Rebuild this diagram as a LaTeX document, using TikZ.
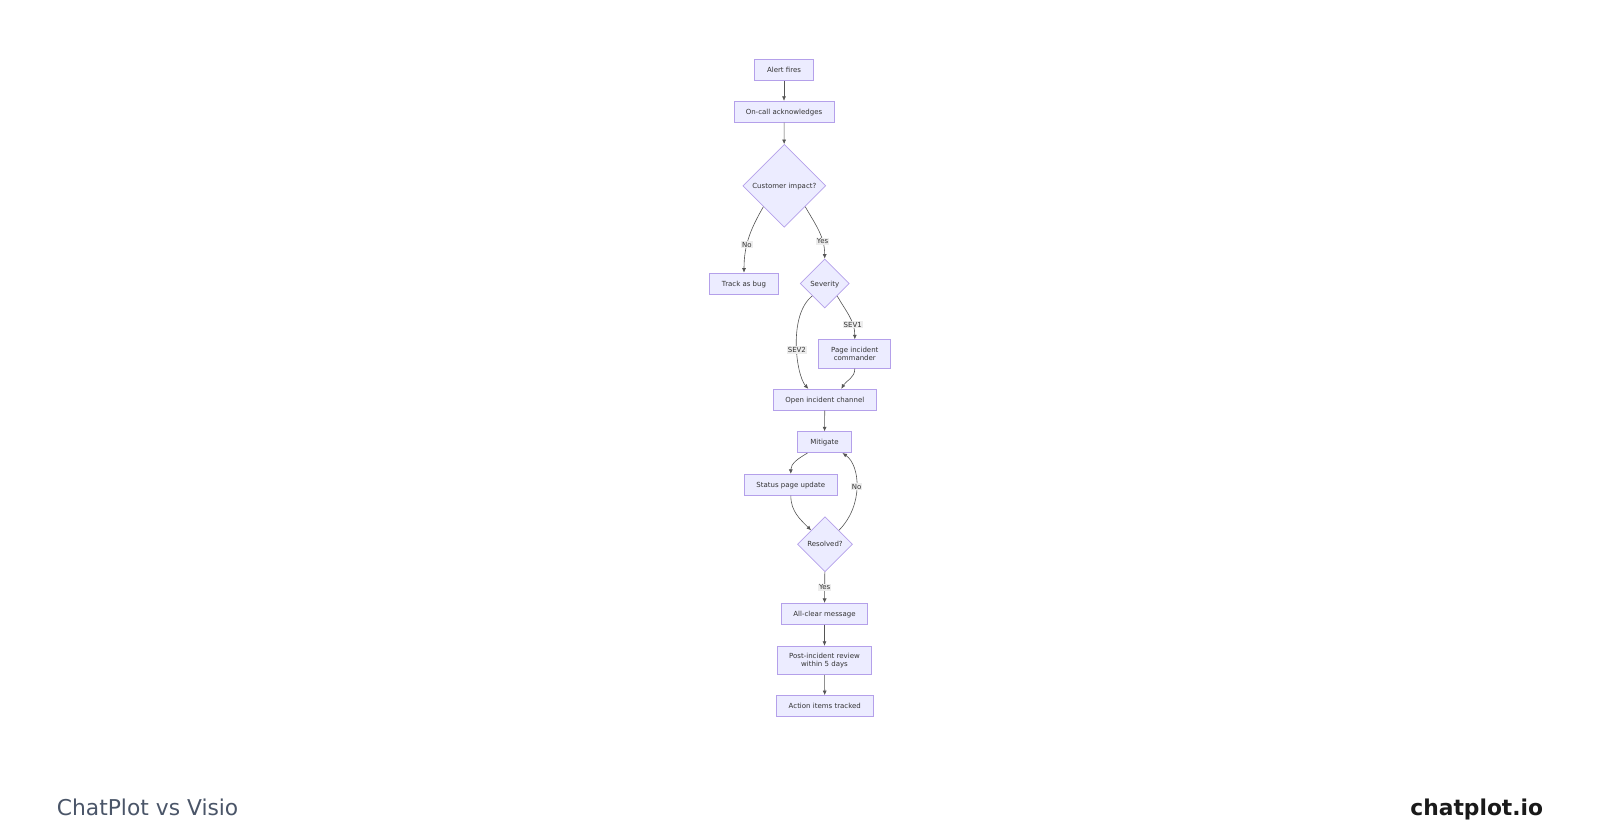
\documentclass[tikz,border=0pt]{standalone}
\usepackage{fontspec}
\setmainfont{DejaVu Sans}
\usetikzlibrary{shapes.geometric, arrows.meta}
\definecolor{boxfill}{HTML}{ECECFF}
\definecolor{boxline}{HTML}{B4A0EA}
\definecolor{ink}{HTML}{333333}
\definecolor{wire}{HTML}{555555}
\definecolor{lblfill}{HTML}{EDEDED}
\definecolor{titlegray}{HTML}{4A5568}
\definecolor{brandink}{HTML}{1A1A1A}
\begin{document}
\begin{tikzpicture}[
  x=1pt, y=1pt,
  tallbox/.style={rectangle, draw=boxline, fill=boxfill, line width=0.7pt,
    minimum height=21pt, inner sep=0pt, text=ink, align=center,
    font=\fontsize{7}{7.5}\selectfont},
  box/.style={tallbox, text height=6.6pt, text depth=1.3pt},
  choice/.style={diamond, draw=boxline, fill=boxfill, line width=0.7pt,
    inner sep=0pt, text=ink, text height=6.6pt, text depth=1.3pt,
    font=\fontsize{7}{7.5}\selectfont},
  flow/.style={draw=wire, line width=0.6pt, -{Latex[length=4.5pt,width=4pt]}},
  lbl/.style={fill=lblfill, text=ink, inner sep=1pt,
    font=\fontsize{7}{7.5}\selectfont}
  ]
  \useasboundingbox (0,0) rectangle (1600,-840);

  % Define nodes
  \node[box, minimum width=59pt] (alert) at (784,-70) {Alert fires};
  \node[box, minimum width=100pt] (ack) at (784,-111.7) {On-call acknowledges};
  \node[choice, minimum width=83pt, minimum height=83pt] (impact) at (784.3,-185.8) {Customer impact?};
  \node[box, minimum width=69pt] (bug) at (744,-283.5) {Track as bug};
  \node[choice, minimum width=49pt, minimum height=49pt] (sev) at (824.7,-283.5) {Severity};
  \node[tallbox, minimum width=72pt, minimum height=28.7pt] (page) at (854.8,-354) {Page incident\\commander};
  \node[box, minimum width=103pt] (channel) at (824.8,-399.7) {Open incident channel};
  \node[box, minimum width=54pt] (mitigate) at (824.5,-442.2) {Mitigate};
  \node[box, minimum width=93pt] (status) at (790.8,-484.7) {Status page update};
  \node[choice, minimum width=55pt, minimum height=55pt] (resolved) at (825,-544.2) {Resolved?};
  \node[box, minimum width=86pt] (allclear) at (824.5,-613.8) {All-clear message};
  \node[tallbox, minimum width=94pt, minimum height=28.6pt] (review) at (824.5,-660.5) {Post-incident review\\within 5 days};
  \node[box, minimum width=97pt] (items) at (824.8,-706) {Action items tracked};

  % Draw arrows
  \draw[flow] (alert) -- (ack);
  \draw[flow] (ack) -- (impact);
  \draw[flow] (impact.south west) to[out=-120, in=90]
    node[lbl, pos=0.6] (no1) {No} (bug.north);
  \draw[flow] (impact.south east) to[out=-60, in=90]
    node[lbl, pos=0.7] (yes1) {Yes} (sev.north);
  \draw[flow] (sev.south east) to[out=-60, in=90]
    node[lbl, pos=0.7] (sev1) {SEV1} (page.north);
  \draw[flow] (sev.south west) .. controls (788,-315) and (796,-375) ..
    node[lbl, pos=0.55] (sev2) {SEV2} ([xshift=-16.5pt]channel.north);
  \draw[flow] (page.south) to[out=-90, in=60] ([xshift=16.5pt]channel.north);
  \draw[flow] (channel) -- (mitigate);
  \draw[flow] ([xshift=-17pt]mitigate.south) to[out=-150, in=90] (status.north);
  \draw[flow] (status.south) to[out=-90, in=135] (resolved.north west);
  \draw[flow] (resolved.north east) .. controls (864,-505) and (860,-465) ..
    node[lbl, pos=0.5] (no2) {No} ([xshift=18pt]mitigate.south);
  \draw[flow] (resolved) -- node[lbl, pos=0.5] (yes2) {Yes} (allclear);
  \draw[flow] (allclear) -- (review);
  \draw[flow] (review) -- (items);

  % Footer texts
  \node[anchor=base west, inner sep=0pt, text=titlegray, font=\fontsize{21.8}{24}\selectfont]
    (title) at (56.7,-815) {ChatPlot vs Visio};
  \node[anchor=base east, inner sep=0pt, text=brandink, font=\fontsize{21.8}{24}\selectfont\bfseries]
    (brand) at (1543.3,-815) {chatplot.io};
\end{tikzpicture}
\end{document}
